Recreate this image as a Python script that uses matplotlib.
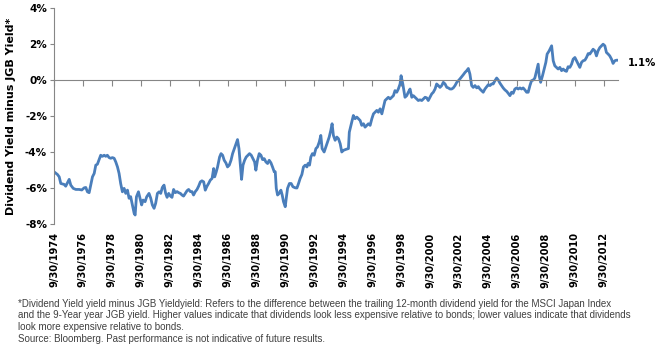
import numpy as np
import matplotlib.pyplot as plt

# dividend yield minus JGB yield (decimal year, %)
years = [
    1974.75, 1974.99, 1975.11, 1975.22, 1975.45, 1975.56, 1975.68, 1975.80, 1975.91,
    1976.08, 1976.26, 1976.49, 1976.67, 1976.84, 1976.95, 1977.06, 1977.18, 1977.29,
    1977.41, 1977.53, 1977.64, 1977.75, 1977.87, 1977.98, 1978.10, 1978.22, 1978.33,
    1978.44, 1978.56, 1978.67, 1978.79, 1978.91, 1979.02, 1979.14, 1979.25, 1979.36,
    1979.48, 1979.60, 1979.71, 1979.83, 1979.94, 1980.05, 1980.17, 1980.29, 1980.36,
    1980.45, 1980.59, 1980.70, 1980.81, 1980.91, 1981.05, 1981.16, 1981.32, 1981.44,
    1981.55, 1981.67, 1981.78, 1981.90, 1982.02, 1982.13, 1982.24, 1982.36, 1982.47,
    1982.57, 1982.68, 1982.80, 1982.91, 1983.02, 1983.14, 1983.26, 1983.37, 1983.49,
    1983.60, 1983.71, 1983.83, 1983.95, 1984.06, 1984.18, 1984.29, 1984.40, 1984.52,
    1984.64, 1984.75, 1984.87, 1984.98, 1985.10, 1985.21, 1985.33, 1985.44, 1985.56,
    1985.68, 1985.79, 1985.86, 1985.97, 1986.06, 1986.20, 1986.30, 1986.41, 1986.52,
    1986.64, 1986.75, 1986.87, 1986.99, 1987.10, 1987.22, 1987.33, 1987.44, 1987.54,
    1987.63, 1987.72, 1987.82, 1987.93, 1988.04, 1988.16, 1988.27, 1988.39, 1988.51,
    1988.62, 1988.71, 1988.82, 1988.94, 1989.06, 1989.17, 1989.29, 1989.40, 1989.52,
    1989.63, 1989.75, 1989.86, 1989.98, 1990.05, 1990.12, 1990.21, 1990.32, 1990.44,
    1990.53, 1990.62, 1990.74, 1990.81, 1990.90, 1991.03, 1991.15, 1991.27, 1991.43,
    1991.55, 1991.66, 1991.77, 1991.89, 1992.00, 1992.12, 1992.24, 1992.31, 1992.42,
    1992.51, 1992.62, 1992.74, 1992.86, 1992.97, 1993.09, 1993.20, 1993.29, 1993.43,
    1993.55, 1993.66, 1993.78, 1993.89, 1993.98, 1994.07, 1994.19, 1994.31, 1994.42,
    1994.54, 1994.65, 1994.76, 1994.95, 1995.11, 1995.17, 1995.45, 1995.57, 1995.69,
    1995.80, 1995.92, 1996.03, 1996.15, 1996.26, 1996.38, 1996.49, 1996.61, 1996.73,
    1996.84, 1996.95, 1997.07, 1997.18, 1997.30, 1997.42, 1997.53, 1997.64, 1997.76,
    1997.87, 1997.99, 1998.10, 1998.22, 1998.33, 1998.45, 1998.56, 1998.68, 1998.75,
    1998.87, 1999.02, 1999.14, 1999.25, 1999.37, 1999.49, 1999.60, 1999.72, 1999.83,
    1999.94, 2000.06, 2000.18, 2000.29, 2000.41, 2000.52, 2000.63, 2000.75, 2000.87,
    2000.98, 2001.10, 2001.21, 2001.33, 2001.44, 2001.56, 2001.67, 2001.79, 2001.91,
    2002.02, 2002.13, 2002.25, 2002.36, 2002.48, 2002.60, 2002.71, 2002.82, 2002.94,
    2003.05, 2003.17, 2003.29, 2003.40, 2003.51, 2003.63, 2003.74, 2003.86, 2003.98,
    2004.09, 2004.20, 2004.32, 2004.43, 2004.55, 2004.67, 2004.78, 2004.90, 2005.01,
    2005.12, 2005.24, 2005.36, 2005.47, 2005.59, 2005.70, 2005.81, 2005.93, 2006.05,
    2006.16, 2006.28, 2006.39, 2006.50, 2006.62, 2006.74, 2006.85, 2006.97, 2007.08,
    2007.19, 2007.31, 2007.43, 2007.54, 2007.66, 2007.77, 2007.89, 2008.00, 2008.12,
    2008.23, 2008.30, 2008.40, 2008.53, 2008.62, 2008.76, 2008.85, 2008.99, 2009.16,
    2009.27, 2009.38, 2009.50, 2009.61, 2009.73, 2009.85, 2009.96, 2010.07, 2010.19,
    2010.30, 2010.42, 2010.54, 2010.65, 2010.77, 2010.88, 2011.00, 2011.11, 2011.23,
    2011.34, 2011.46, 2011.57, 2011.69, 2011.80, 2011.92, 2012.03, 2012.15, 2012.26,
    2012.37, 2012.49, 2012.61, 2012.72, 2012.84, 2012.95, 2013.07, 2013.18, 2013.30,
    2013.41, 2013.53, 2013.64, 2013.75,
]
spread = [
    -5.10, -5.25, -5.38, -5.75, -5.80, -5.90, -5.71, -5.52, -5.84,
    -6.02, -6.08, -6.08, -6.11, -5.99, -5.97, -6.21, -6.26, -5.84,
    -5.38, -5.19, -4.73, -4.68, -4.42, -4.18, -4.24, -4.18, -4.24,
    -4.18, -4.31, -4.35, -4.31, -4.35, -4.55, -4.83, -5.19, -5.75,
    -6.21, -6.02, -6.30, -6.12, -6.57, -6.48, -6.94, -7.40, -7.50,
    -6.49, -6.21, -6.57, -6.94, -6.67, -6.76, -6.49, -6.30, -6.57,
    -6.94, -7.13, -6.85, -6.30, -6.21, -6.30, -5.97, -5.84, -6.30,
    -6.52, -6.30, -6.45, -6.52, -6.08, -6.26, -6.20, -6.26, -6.30,
    -6.39, -6.45, -6.30, -6.15, -6.08, -6.20, -6.20, -6.39, -6.20,
    -6.08, -5.90, -5.66, -5.60, -5.66, -6.12, -5.90, -5.75, -5.56,
    -5.47, -4.92, -5.38, -5.10, -4.83, -4.28, -4.09, -4.18, -4.46,
    -4.61, -4.83, -4.73, -4.46, -4.09, -3.81, -3.54, -3.31, -3.81,
    -4.64, -5.52, -4.73, -4.46, -4.28, -4.18, -4.09, -4.18, -4.37,
    -4.55, -5.01, -4.46, -4.09, -4.18, -4.42, -4.37, -4.55, -4.64,
    -4.46, -4.60, -4.83, -5.10, -5.10, -6.02, -6.39, -6.30, -6.12,
    -6.39, -6.76, -7.04, -6.57, -6.02, -5.75, -5.75, -5.93, -5.99,
    -6.00, -5.75, -5.47, -5.25, -4.83, -4.73, -4.83, -4.64, -4.73,
    -4.28, -4.09, -4.18, -3.81, -3.72, -3.45, -3.08, -3.81, -4.00,
    -3.72, -3.45, -3.17, -2.80, -2.43, -3.08, -3.35, -3.17, -3.26,
    -3.54, -4.00, -3.91, -3.85, -3.81, -2.90, -1.97, -2.15, -2.06,
    -2.15, -2.25, -2.52, -2.43, -2.62, -2.52, -2.43, -2.52, -2.15,
    -1.88, -1.79, -1.69, -1.79, -1.60, -1.88, -1.51, -1.14, -1.05,
    -0.96, -1.05, -0.96, -0.87, -0.59, -0.68, -0.50, -0.22, 0.24,
    -0.22, -0.96, -0.87, -0.68, -0.50, -0.96, -0.87, -0.96, -1.05,
    -1.14, -1.10, -1.14, -1.05, -0.96, -0.99, -1.14, -0.96, -0.77,
    -0.68, -0.50, -0.22, -0.31, -0.41, -0.31, -0.13, -0.22, -0.41,
    -0.44, -0.50, -0.50, -0.44, -0.31, -0.13, -0.04, 0.06, 0.18,
    0.29, 0.42, 0.52, 0.64, 0.33, -0.31, -0.41, -0.31, -0.44,
    -0.37, -0.50, -0.59, -0.68, -0.50, -0.37, -0.26, -0.31, -0.22,
    -0.22, -0.04, 0.11, 0.00, -0.18, -0.31, -0.44, -0.55, -0.63,
    -0.74, -0.87, -0.68, -0.74, -0.50, -0.44, -0.50, -0.44, -0.50,
    -0.44, -0.55, -0.68, -0.68, -0.31, -0.04, 0.00, 0.11, 0.52,
    0.88, 0.24, -0.13, 0.24, 0.52, 0.98, 1.44, 1.62, 1.90,
    1.07, 0.79, 0.70, 0.61, 0.70, 0.52, 0.61, 0.52, 0.48,
    0.74, 0.70, 0.88, 1.16, 1.25, 1.07, 0.88, 0.70, 0.98,
    1.07, 1.10, 1.25, 1.47, 1.44, 1.58, 1.71, 1.62, 1.34,
    1.62, 1.80, 1.90, 1.99, 1.90, 1.53, 1.44, 1.34, 1.16,
    0.92, 1.07, 1.10, 1.10,
]

tick_years = np.arange(1974.75, 2013, 2)
tick_labels = [f"9/30/{int(y)}" for y in tick_years]
y_ticks = [4, 2, 0, -2, -4, -6, -8]

footnote = [
    "*Dividend Yield yield minus JGB Yieldyield: Refers to the difference between the trailing 12-month dividend yield for the MSCI Japan Index",
    "and the 9-Year year JGB yield. Higher values indicate that dividends look less expensive relative to bonds; lower values indicate that dividends",
    "look more expensive relative to bonds.",
    "Source: Bloomberg. Past performance is not indicative of future results.",
]

axis_grey = "#868686"

fig = plt.figure(figsize=(6.56, 3.44), dpi=100)
ax = fig.add_axes([54 / 656, 1 - 224 / 344, (618 - 54) / 656, 216 / 344])

ax.plot(years, spread, color="#4a7ebb", lw=2.0, solid_joinstyle="round")
ax.set_xlim(years[0], years[-1])
ax.set_ylim(-8, 4)

ax.set_yticks(y_ticks)
ax.set_yticklabels([f"{t}%" for t in y_ticks], fontweight="bold", fontsize=7.5)
ax.tick_params(axis="y", length=3, color=axis_grey, pad=2)

for s in ["top", "right"]:
    ax.spines[s].set_visible(False)
ax.spines["left"].set_color(axis_grey)
ax.spines["bottom"].set_position(("data", 0))
ax.spines["bottom"].set_color(axis_grey)

# category axis crosses at 0, labels sit at the bottom
ax.set_xticks(tick_years)
ax.tick_params(axis="x", direction="out", length=4, color=axis_grey, labelbottom=False)
sec = ax.secondary_xaxis(0)
sec.set_xticks(tick_years, tick_labels, rotation=90, fontweight="bold", fontsize=7.1)
sec.spines["bottom"].set_visible(False)
sec.tick_params(length=0, pad=6)

ax.set_ylabel("Dividend Yield minus JGB Yield*", fontweight="bold", fontsize=8)
ax.yaxis.set_label_coords(-0.068, 0.5)

ax.annotate(f"{spread[-1]:.1f}%", xy=(years[-1], spread[-1]), xytext=(7, -2),
            textcoords="offset points", fontweight="bold", fontsize=7.3, va="center")

for i, line in enumerate(footnote):
    fig.text(18 / 656, 1 - (304 + 11.5 * i) / 344, line, fontsize=7.0,
             color="#404040", family="Liberation Sans", va="center")

fig.savefig("out.png", dpi=100)
